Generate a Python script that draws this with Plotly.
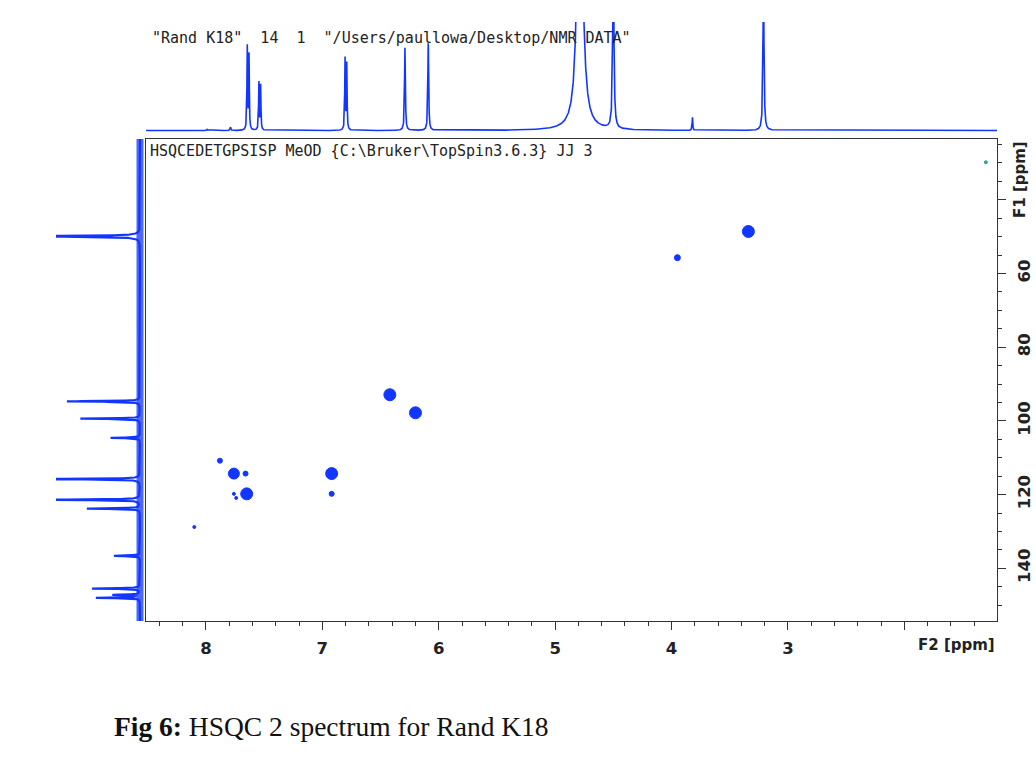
import numpy as np
import plotly.graph_objects as go

W, H = 1036, 758

# ---------------- data ----------------
# 1H projection (top trace): shift (ppm), relative intensity, half width (ppm)
h_shift = [7.99, 7.79, 7.645, 7.630, 7.545, 7.530, 6.805, 6.790, 6.29, 6.09, 4.787, 4.50, 3.82, 3.21]
h_int = [0.01, 0.03, 0.77, 0.70, 0.44, 0.42, 0.66, 0.62, 0.77, 0.81, 3.5, 1.6, 0.12, 1.4]
h_width = [0.004, 0.004, 0.003, 0.003, 0.003, 0.003, 0.003, 0.003, 0.004, 0.004, 0.022, 0.006, 0.003, 0.005]

# 13C projection (left trace): shift (ppm), relative intensity, half width (ppm)
c_shift = [49.9, 94.7, 99.4, 104.6, 115.8, 121.4, 123.8, 136.6, 145.5, 147.2, 148.0]
c_int = [1.4, 0.87, 0.71, 0.35, 1.3, 1.3, 0.63, 0.31, 0.57, 0.32, 0.52]
c_width = [0.15, 0.1, 0.1, 0.1, 0.1, 0.1, 0.1, 0.1, 0.1, 0.1, 0.1]

# HSQC cross peaks: F2 (1H ppm), F1 (13C ppm), relative blob size
cp_f2 = [3.34, 3.95, 6.42, 6.20, 7.76, 7.66, 7.65, 7.76, 7.74, 6.92, 6.92, 7.88, 8.10, 1.30]
cp_f1 = [48.6, 55.7, 92.9, 97.8, 114.3, 114.3, 119.8, 119.8, 120.9, 114.3, 119.8, 110.8, 128.8, 29.8]
cp_size = [12, 6, 12, 12, 11, 5, 12, 3, 3, 12, 5, 5, 3, 3]

# axis ticks
f2_ticks = [2, 3, 4, 5, 6, 7, 8]
f2_labels = ["", "3", "4", "5", "6", "7", "8"]
f1_ticks = [40, 60, 80, 100, 120, 140]
f1_labels = ["", "60", "80", "100", "120", "140"]

F2_RANGE = [8.515, 1.204]
F1_RANGE = [154.3, 23.5]

BLUE = "#1236ff"


def px_x(p):
    return p / W


def px_y(p):
    return 1 - p / H


def lorentz_sum(grid, shifts, ints, widths):
    out = np.zeros_like(grid)
    for s, a, w in zip(shifts, ints, widths):
        out += a * w * w / ((grid - s) ** 2 + w * w)
    return out


h_grid = np.arange(F2_RANGE[1], F2_RANGE[0], 0.0008)
h_spec = lorentz_sum(h_grid, h_shift, h_int, h_width)

c_grid = np.arange(F1_RANGE[1], F1_RANGE[0], 0.01)
c_spec = lorentz_sum(c_grid, c_shift, c_int, c_width)

fig = go.Figure()

# top 1H projection
fig.add_trace(go.Scatter(x=h_grid, y=h_spec, mode="lines", xaxis="x2", yaxis="y2",
                         line=dict(color=BLUE, width=1.6), hoverinfo="skip", showlegend=False))

# left 13C projection (noise band approximated by a thick baseline)
fig.add_trace(go.Scatter(x=np.zeros_like(c_grid), y=c_grid, mode="lines", xaxis="x3", yaxis="y",
                         line=dict(color=BLUE, width=7), opacity=0.75, hoverinfo="skip", showlegend=False))
fig.add_trace(go.Scatter(x=c_spec, y=c_grid, mode="lines", xaxis="x3", yaxis="y",
                         line=dict(color=BLUE, width=2.2), hoverinfo="skip", showlegend=False))

# cross peaks
colors = [BLUE] * (len(cp_f2) - 1) + ["#2aa59a"]
fig.add_trace(go.Scatter(x=cp_f2, y=cp_f1, mode="markers", xaxis="x", yaxis="y",
                         marker=dict(size=cp_size, color=colors, opacity=1, line=dict(width=1, color=colors)),
                         showlegend=False))

tickfont = dict(family="DejaVu Sans", size=16.5, color="#222", weight="bold")
titlefont = dict(family="DejaVu Sans", size=15, color="#222", weight="bold")

fig.update_layout(
    width=W, height=H,
    margin=dict(l=0, r=0, t=0, b=0),
    paper_bgcolor="white", plot_bgcolor="white",
    showlegend=False,
    xaxis=dict(domain=[px_x(146), px_x(997)], range=F2_RANGE, anchor="y",
               tickmode="array", tickvals=f2_ticks, ticktext=f2_labels,
               ticks="outside", ticklen=8, tickwidth=1, tickcolor="#333",
               showline=True, linecolor="#333", linewidth=1.2, mirror=True,
               showgrid=False, zeroline=False, tickfont=tickfont, ticklabelstandoff=4,
               minor=dict(tick0=0, dtick=0.2, ticks="outside", ticklen=4, tickcolor="#333", showgrid=False)),
    yaxis=dict(domain=[px_y(621), px_y(139)], range=F1_RANGE, anchor="x", side="right",
               tickmode="array", tickvals=f1_ticks, ticktext=f1_labels, tickangle=-90,
               ticks="outside", ticklen=8, tickwidth=1, tickcolor="#333",
               showline=True, linecolor="#333", linewidth=1.2, mirror=True,
               showgrid=False, zeroline=False, tickfont=tickfont, ticklabelstandoff=4,
               minor=dict(tick0=0, dtick=5, ticks="outside", ticklen=4, tickcolor="#333", showgrid=False)),
    xaxis2=dict(domain=[px_x(146), px_x(997)], range=F2_RANGE, anchor="y2", visible=False),
    yaxis2=dict(domain=[px_y(136), px_y(22)], range=[-0.05, 1.0], anchor="x2", visible=False),
    xaxis3=dict(domain=[px_x(56), px_x(146)], range=[1.0, -0.0714], anchor="y", visible=False),
)

mono = dict(family="DejaVu Sans Mono", size=15, color="#222")
fig.add_annotation(x=px_x(150), y=px_y(38), xref="paper", yref="paper", xanchor="left", yanchor="middle",
                   text='"Rand K18"  14  1  "/Users/paullowa/Desktop/NMR DATA"', showarrow=False, font=mono)
fig.add_annotation(x=px_x(148), y=px_y(151), xref="paper", yref="paper", xanchor="left", yanchor="middle",
                   text="HSQCEDETGPSISP MeOD {C:\\Bruker\\TopSpin3.6.3} JJ 3", showarrow=False, font=mono)
fig.add_annotation(x=px_x(956), y=px_y(645), xref="paper", yref="paper", xanchor="center", yanchor="middle",
                   text="F2 [ppm]", showarrow=False, font=titlefont)
fig.add_annotation(x=px_x(1020), y=px_y(180), xref="paper", yref="paper", xanchor="center", yanchor="middle",
                   text="F1 [ppm]", textangle=-90, showarrow=False, font=titlefont)
fig.add_annotation(x=px_x(112), y=px_y(726), xref="paper", yref="paper", xanchor="left", yanchor="middle",
                   text="<b>Fig 6:</b> HSQC 2 spectrum for Rand K18", showarrow=False,
                   font=dict(family="Liberation Serif", size=27.5, color="#111"))

fig.write_html("out.html", config={"displayModeBar": False},
               post_script="document.body.style.margin='0';document.body.style.overflow='hidden';")
